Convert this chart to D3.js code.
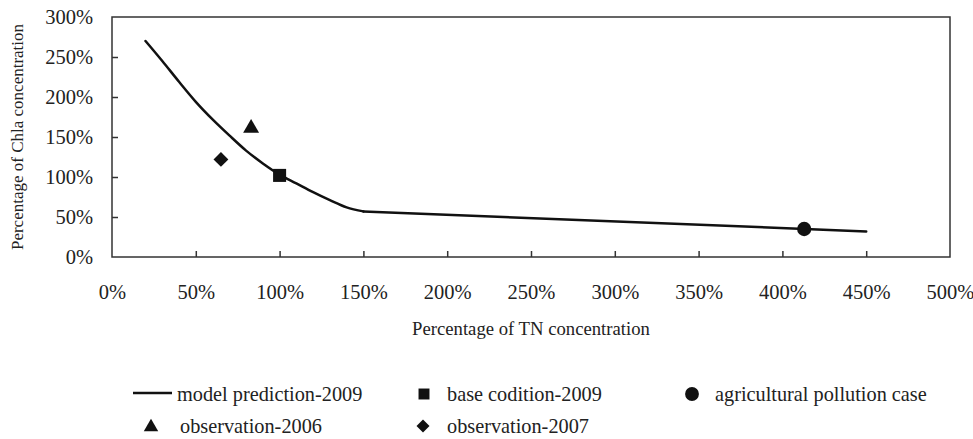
<!DOCTYPE html>
<html>
<head>
<meta charset="utf-8">
<script src="https://cdnjs.cloudflare.com/ajax/libs/d3/7.8.5/d3.min.js"></script>
<style>
  body { margin: 0; background: #fff; }
  text { font-family: "Liberation Serif", "Times New Roman", serif; fill: #222; }
</style>
</head>
<body>
<div id="chart"></div>
<script>
// MODEL CURVE (TN % -> Chla %)
var tnPct = [20, 30, 40, 50, 60, 70, 80, 90, 100, 110, 120, 130, 140, 150, 450];
var chlaPct = [270, 245, 219, 194, 172, 152, 133, 117, 103, 92, 81, 71, 62, 57, 32];

// SINGLE POINTS
var base2009 = [[100, 102]];
var agriCase = [[413, 35]];
var obs2006 = [[83, 161]];
var obs2007 = [[65, 122]];

// TICKS
var xTicks = [0, 50, 100, 150, 200, 250, 300, 350, 400, 450, 500];
var yTicks = [0, 50, 100, 150, 200, 250, 300];

var width = 973, height = 439;
var plot = { left: 112, right: 950, top: 17, bottom: 257 };

var svg = d3.select('#chart').append('svg')
  .attr('width', width)
  .attr('height', height);

var xScale = d3.scaleLinear().domain([0, 500]).range([plot.left, plot.right]);
var yScale = d3.scaleLinear().domain([0, 300]).range([plot.bottom, plot.top]);

// FRAME
svg.append('rect')
  .attr('x', plot.left).attr('y', plot.top)
  .attr('width', plot.right - plot.left)
  .attr('height', plot.bottom - plot.top)
  .attr('fill', 'none')
  .attr('stroke', '#333')
  .attr('stroke-width', 1.5);

// AXES, TICKS POINT INWARD
var xAxis = svg.append('g')
  .attr('transform', 'translate(0,' + plot.bottom + ')')
  .call(d3.axisBottom(xScale).tickValues(xTicks).tickSize(-6).tickPadding(27)
    .tickFormat(function (d) { return d + '%'; }));

var yAxis = svg.append('g')
  .attr('transform', 'translate(' + plot.left + ',0)')
  .call(d3.axisLeft(yScale).tickValues(yTicks).tickSize(-6).tickPadding(19)
    .tickFormat(function (d) { return d + '%'; }));

[xAxis, yAxis].forEach(function (ax) {
  ax.select('.domain').remove();
  ax.selectAll('line').attr('stroke', '#333').attr('stroke-width', 1.5);
  ax.selectAll('text')
    .style('font-family', '"Liberation Serif", serif')
    .style('font-size', '20.5px')
    .attr('fill', '#222');
});
xAxis.selectAll('line').filter(function (d) { return d === 0 || d === 500; }).remove();
yAxis.selectAll('line').filter(function (d) { return d === 0 || d === 300; }).remove();

// AXIS TITLES
svg.append('text')
  .attr('x', (plot.left + plot.right) / 2)
  .attr('y', 335)
  .attr('text-anchor', 'middle')
  .style('font-size', '18.7px')
  .text('Percentage of TN concentration');

svg.append('text')
  .attr('transform', 'translate(23,' + (plot.top + plot.bottom) / 2 + ') rotate(-90)')
  .attr('text-anchor', 'middle')
  .style('font-size', '17px')
  .text('Percentage of Chla concentration');

// MODEL LINE: SMOOTH UP TO 150%, STRAIGHT AFTER
var modelPts = tnPct.map(function (t, i) { return [t, chlaPct[i]]; });
var smoothPts = modelPts.filter(function (d) { return d[0] <= 150; });
var tailPts = modelPts.filter(function (d) { return d[0] >= 150; });

var smoothLine = d3.line()
  .x(function (d) { return xScale(d[0]); })
  .y(function (d) { return yScale(d[1]); })
  .curve(d3.curveMonotoneX);

var straightLine = d3.line()
  .x(function (d) { return xScale(d[0]); })
  .y(function (d) { return yScale(d[1]); });

[smoothLine(smoothPts), straightLine(tailPts)].forEach(function (p) {
  svg.append('path')
    .attr('d', p)
    .attr('fill', 'none')
    .attr('stroke', '#111')
    .attr('stroke-width', 2.5)
    .attr('stroke-linejoin', 'round')
    .attr('stroke-linecap', 'round');
});

// MARKERS
function marker(type, size) {
  return d3.symbol().type(type).size(size)();
}

function drawPoints(data, type, size, rotate) {
  svg.selectAll(null).data(data).enter()
    .append('path')
    .attr('d', marker(type, size))
    .attr('transform', function (d) {
      return 'translate(' + xScale(d[0]) + ',' + yScale(d[1]) + ')' + (rotate ? ' rotate(45)' : '');
    })
    .attr('fill', '#111');
}

drawPoints(base2009, d3.symbolSquare, 170);
drawPoints(agriCase, d3.symbolCircle, 160);
drawPoints(obs2006, d3.symbolTriangle, 110);
drawPoints(obs2007, d3.symbolSquare, 110, true);

// LEGEND
var legend = svg.append('g').style('font-size', '20.3px');

legend.append('line')
  .attr('x1', 133).attr('x2', 172)
  .attr('y1', 393).attr('y2', 393)
  .attr('stroke', '#111').attr('stroke-width', 2.5);

var legendItems = [
  { label: 'model prediction-2009', x: 177, y: 401 },
  { label: 'base codition-2009', x: 447, y: 401, type: d3.symbolSquare, size: 120, mx: 424, my: 394 },
  { label: 'agricultural pollution case', x: 715, y: 401, type: d3.symbolCircle, size: 150, mx: 692, my: 394 },
  { label: 'observation-2006', x: 180, y: 433, type: d3.symbolTriangle, size: 90, mx: 151, my: 427 },
  { label: 'observation-2007', x: 447, y: 433, type: d3.symbolSquare, size: 85, mx: 423, my: 426, rotate: true }
];

legendItems.forEach(function (item) {
  if (item.type) {
    legend.append('path')
      .attr('d', marker(item.type, item.size))
      .attr('transform', 'translate(' + item.mx + ',' + item.my + ')' + (item.rotate ? ' rotate(45)' : ''))
      .attr('fill', '#111');
  }
  legend.append('text')
    .attr('x', item.x)
    .attr('y', item.y)
    .text(item.label);
});
</script>
</body>
</html>
